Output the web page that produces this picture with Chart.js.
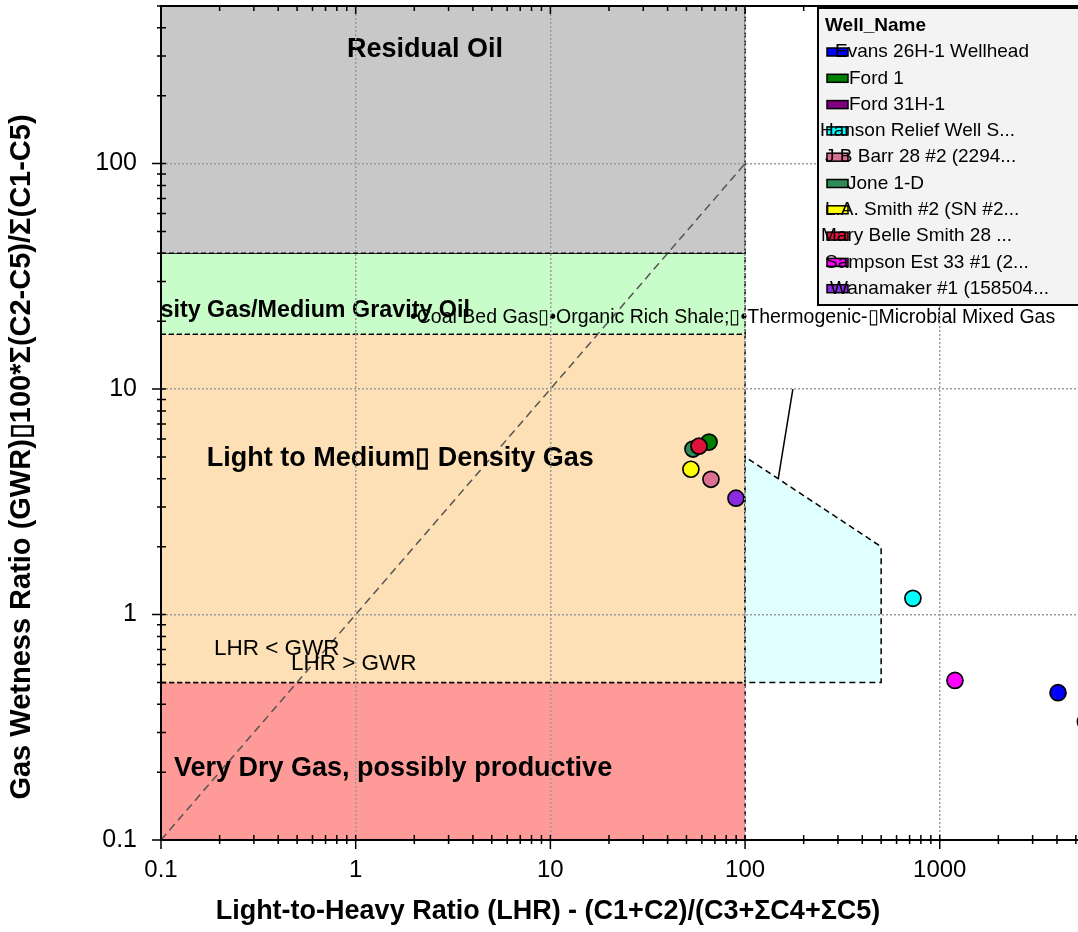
<!DOCTYPE html>
<html>
<head>
<meta charset="utf-8">
<script src="https://cdn.jsdelivr.net/npm/chart.js@4.4.1/dist/chart.umd.min.js"></script>
<style>
html, body { margin: 0; padding: 0; background: #fff; }
</style>
</head>
<body>
<canvas id="myChart" width="1078" height="932"></canvas>
<script>
// wells (LHR on x, GWR on y)
const wellNames = ['Evans 26H-1 Wellhead', 'Ford 1', 'Ford 31H-1', 'Hanson Relief Well S...', 'J B Barr 28 #2 (2294...',
    'Jone 1-D', 'L.A. Smith #2 (SN #2...', 'Mary Belle Smith 28 ...', 'Sampson Est 33 #1 (2...', 'Wanamaker #1 (158504...'];
const wellColors = ['#0000ff', '#008000', '#800080', '#00ffff', '#db7093', '#2e8b57', '#ffff00', '#dc143c', '#ff00ff', '#8a2be2'];
const wellLHR = [4050, 65.3, 5600, 728, 66.8, 54, 52.7, 58, 1197, 89.8];
const wellGWR = [0.45, 5.82, 0.335, 1.18, 3.98, 5.42, 4.41, 5.58, 0.51, 3.28];

// interpretation zones, LHR 0.1 - 100
const zoneNames = ['Residual Oil', 'Medium Density Gas/Medium Gravity Oil', 'Light to Medium\u25AF Density Gas', 'Very Dry Gas, possibly productive'];
const zoneLow = [40, 17.5, 0.5, 0.1];
const zoneHigh = [500, 40, 17.5, 0.5];
const zoneColors = ['#c8c8c8', '#c8fcc8', '#fee0b6', '#fe9a98'];
const zoneLHRmin = 0.1;
const zoneLHRmax = 100;

// shale / coal bed gas polygon
const shaleLHR = [100, 100, 500, 500, 100];
const shaleGWR = [0.5, 5, 2, 0.5, 0.5];
const shaleText = '\u2022Coal Bed Gas\u25AF\u2022Organic Rich Shale;\u25AF\u2022Thermogenic-\u25AFMicrobial Mixed Gas';

// LHR = GWR line and the pointer
const diagLHR = [0.1, 100];
const diagGWR = [0.1, 100];
const pointerLHR = [176, 148];
const pointerGWR = [10, 4];

const xMajor = [0.1, 1, 10, 100, 1000];
const yMajor = [0.1, 1, 10, 100];
const xMax = 5130;
const yMax = 500;

function logTicks(min, max) {
    let out = [];
    for (let e = -1; e <= 4; e++) {
        for (let m = 1; m <= 9; m++) {
            let v = +(m * Math.pow(10, e)).toPrecision(3);
            if (v >= min && v <= max) out.push({ value: v });
        }
    }
    return out;
}
const isMajor = v => Math.abs(Math.log10(v) - Math.round(Math.log10(v))) < 1e-6;

const datasets = [];
wellNames.forEach((n, i) => {
    datasets.push({
        label: n,
        data: [{ x: wellLHR[i], y: wellGWR[i] }],
        backgroundColor: wellColors[i],
        borderColor: '#000',
        borderWidth: 1.7,
        pointRadius: 8,
        order: wellNames.length - i
    });
});
zoneNames.forEach((n, i) => {
    datasets.push({
        type: 'line',
        label: n,
        data: [
            { x: zoneLHRmin, y: zoneLow[i] }, { x: zoneLHRmax, y: zoneLow[i] },
            { x: zoneLHRmax, y: zoneHigh[i] }, { x: zoneLHRmin, y: zoneHigh[i] },
            { x: zoneLHRmin, y: zoneLow[i] }
        ],
        fill: 'shape',
        backgroundColor: zoneColors[i],
        borderColor: '#000',
        borderWidth: 1.5,
        borderDash: [5, 3],
        pointRadius: 0,
        order: 200 + i
    });
});
datasets.push({
    type: 'line', label: 'shale',
    data: shaleLHR.map((v, i) => ({ x: v, y: shaleGWR[i] })),
    fill: 'shape', backgroundColor: '#e0ffff',
    borderColor: '#000', borderWidth: 1.5, borderDash: [6, 4], pointRadius: 0, order: 150
});
datasets.push({
    type: 'line', label: 'diag',
    data: diagLHR.map((v, i) => ({ x: v, y: diagGWR[i] })),
    borderColor: '#555', borderWidth: 1.5, borderDash: [8, 5], pointRadius: 0, fill: false, order: 120
});
datasets.push({
    type: 'line', label: 'pointer',
    data: pointerLHR.map((v, i) => ({ x: v, y: pointerGWR[i] })),
    borderColor: '#000', borderWidth: 1.5, pointRadius: 0, fill: false, order: 110
});

const FONT = 'Liberation Sans, Arial, sans-serif';

const overlay = {
    id: 'overlay',
    afterDatasetsDraw(chart) {
        const { ctx, chartArea: a, scales: { x, y } } = chart;
        ctx.save();
        ctx.beginPath();
        ctx.rect(a.left, a.top, a.right - a.left, a.bottom - a.top);
        ctx.clip();
        ctx.fillStyle = '#000';
        ctx.textBaseline = 'middle';
        const put = (txt, vx, vy, font, align) => {
            ctx.font = font;
            ctx.textAlign = align;
            ctx.fillText(txt, x.getPixelForValue(vx), y.getPixelForValue(vy));
        };
        put(zoneNames[0], 2.27, 321, 'bold 27px ' + FONT, 'center');
        put(zoneNames[1], 3.86, 22.4, 'bold 23.3px ' + FONT, 'right');
        put(shaleText, 1.9, 20.7, '19.5px ' + FONT, 'left');
        put(zoneNames[2], 0.172, 4.94, 'bold 27px ' + FONT, 'left');
        put('LHR < GWR', 0.187, 0.706, '22.5px ' + FONT, 'left');
        put('LHR > GWR', 0.465, 0.606, '22.5px ' + FONT, 'left');
        put(zoneNames[3], 0.1166, 0.207, 'bold 27px ' + FONT, 'left');
        ctx.restore();
    },
    afterDraw(chart) {
        const { ctx, chartArea: a, scales: { x, y } } = chart;
        ctx.save();
        // tick marks crossing the axes, plus top frame
        ctx.strokeStyle = '#000';
        ctx.lineWidth = 1.5;
        ctx.beginPath();
        x.ticks.forEach(t => {
            const px = x.getPixelForValue(t.value);
            const big = isMajor(t.value);
            ctx.moveTo(px, a.bottom - 5); ctx.lineTo(px, a.bottom + (big ? 9 : 4));
            ctx.moveTo(px, a.top); ctx.lineTo(px, a.top + (big ? 8 : 5));
        });
        y.ticks.forEach(t => {
            const py = y.getPixelForValue(t.value);
            const big = isMajor(t.value);
            ctx.moveTo(a.left + 5, py); ctx.lineTo(a.left - (big ? 9 : 4), py);
        });
        ctx.stroke();
        ctx.lineWidth = 2;
        ctx.beginPath();
        ctx.moveTo(a.left, a.top); ctx.lineTo(a.right, a.top);
        ctx.stroke();

        // axis titles
        ctx.fillStyle = '#000';
        ctx.textAlign = 'center';
        ctx.textBaseline = 'middle';
        ctx.font = 'bold 27px ' + FONT;
        ctx.fillText('Light-to-Heavy Ratio (LHR) - (C1+C2)/(C3+\u03A3C4+\u03A3C5)', 548, 912);
        ctx.save();
        ctx.translate(22, 457);
        ctx.rotate(-Math.PI / 2);
        ctx.font = 'bold 29px ' + FONT;
        ctx.fillText('Gas Wetness Ratio (GWR)\u25AF100*\u03A3(C2-C5)/\u03A3(C1-C5)', 0, 0);
        ctx.restore();

        // legend box
        const lx = 818, ly = 8, lh = 297, lw = 280;
        ctx.fillStyle = '#f3f3f3';
        ctx.fillRect(lx, ly, lw, lh);
        ctx.strokeStyle = '#000';
        ctx.lineWidth = 2;
        ctx.strokeRect(lx, ly, lw, lh);
        ctx.fillStyle = '#000';
        ctx.textAlign = 'left';
        ctx.font = 'bold 19px ' + FONT;
        ctx.fillText('Well_Name', lx + 7, ly + 18);
        const textX = [835, 849, 849, 820, 825, 847, 825, 821, 825, 830];
        ctx.font = '19px ' + FONT;
        wellNames.forEach((n, i) => {
            const ry = ly + 44 + i * 26.3;
            ctx.fillStyle = wellColors[i];
            ctx.fillRect(lx + 9, ry - 4, 21, 8);
            ctx.strokeStyle = '#000';
            ctx.lineWidth = 1.5;
            ctx.strokeRect(lx + 9, ry - 4, 21, 8);
            ctx.fillStyle = '#000';
            ctx.fillText(n, textX[i], ry);
        });
        ctx.restore();
    }
};

const zeroPad = s => { s.paddingTop = 0; s.paddingBottom = 0; s.paddingLeft = 0; s.paddingRight = 0; };
const gridColor = c => (c.tick && isMajor(c.tick.value) && c.tick.value > 0.1) ? '#9a9a9a' : 'rgba(0,0,0,0)';

new Chart(document.getElementById('myChart'), {
    type: 'scatter',
    data: { datasets: datasets },
    options: {
        responsive: false,
        animation: false,
        devicePixelRatio: 1,
        layout: { autoPadding: false, padding: { top: 6, right: 0, left: 0, bottom: 0 } },
        plugins: { legend: { display: false }, tooltip: { enabled: false } },
        scales: {
            x: {
                type: 'logarithmic',
                min: 0.1,
                max: xMax,
                afterBuildTicks: s => { s.ticks = logTicks(0.1, xMax); },
                afterFit: s => { s.height = 92; zeroPad(s); },
                border: { color: '#000', width: 2, z: 1, dash: [2, 2] },
                grid: { z: 1, drawTicks: false, lineWidth: 1.5, color: gridColor },
                ticks: {
                    autoSkip: false,
                    maxRotation: 0,
                    padding: 16,
                    color: '#000',
                    font: { family: FONT, size: 24 },
                    callback: v => xMajor.includes(v) ? String(v) : ''
                }
            },
            y: {
                type: 'logarithmic',
                min: 0.1,
                max: yMax,
                afterBuildTicks: s => { s.ticks = logTicks(0.1, yMax); },
                afterFit: s => { s.width = 161; zeroPad(s); },
                border: { color: '#000', width: 2, z: 1, dash: [2, 2] },
                grid: { z: 1, drawTicks: false, lineWidth: 1.5, color: gridColor },
                ticks: {
                    autoSkip: false,
                    padding: 24,
                    color: '#000',
                    font: { family: FONT, size: 25 },
                    callback: v => yMajor.includes(v) ? String(v) : ''
                }
            }
        }
    },
    plugins: [overlay]
});
</script>
</body>
</html>
